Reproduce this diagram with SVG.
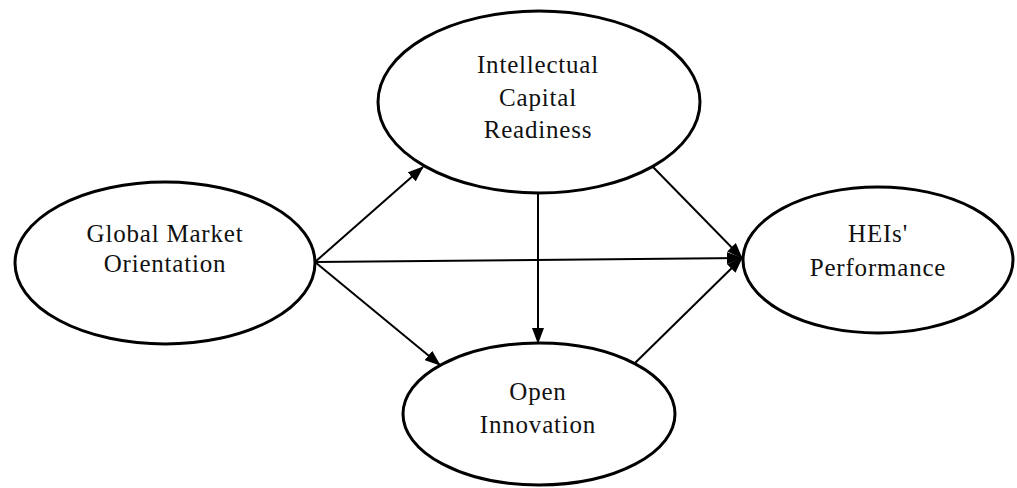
<svg xmlns="http://www.w3.org/2000/svg" width="1017" height="488" viewBox="0 0 1017 488">
<style>
.node{fill:#fff;stroke:#000;stroke-width:3}
.lbl{font-family:"Liberation Serif","Times New Roman",serif;font-size:25px;letter-spacing:0.8px;fill:#111;text-anchor:middle}
.edge{stroke:#000;stroke-width:2;fill:none;marker-end:url(#arr)}
</style>
<defs>
<marker id="arr" markerUnits="userSpaceOnUse" markerWidth="16" markerHeight="12" refX="15" refY="6" orient="auto">
<path d="M0,0 L16,6 L0,12 Z" fill="#000"/>
</marker>
</defs>
<g id="connectors">
<line class="edge" x1="315" y1="262" x2="423" y2="167"/>
<line class="edge" x1="315" y1="262" x2="440" y2="365"/>
<line class="edge" x1="315" y1="262" x2="742" y2="258"/>
<line class="edge" x1="653" y1="167" x2="742" y2="258"/>
<line class="edge" x1="635" y1="363" x2="742" y2="258"/>
<line class="edge" x1="538" y1="193" x2="538" y2="343"/>
</g>
<g id="gmo">
<ellipse class="node" cx="165" cy="263" rx="150" ry="81"/>
<text class="lbl" x="165" y="242">Global Market</text>
<text class="lbl" x="165" y="272">Orientation</text>
</g>
<g id="icr">
<ellipse class="node" cx="539" cy="102" rx="161" ry="91"/>
<text class="lbl" x="538" y="73">Intellectual</text>
<text class="lbl" x="538" y="106">Capital</text>
<text class="lbl" x="538" y="138">Readiness</text>
</g>
<g id="hei">
<ellipse class="node" cx="878" cy="260" rx="135" ry="73"/>
<text class="lbl" x="878" y="242">HEIs'</text>
<text class="lbl" x="878" y="276">Performance</text>
</g>
<g id="oi">
<ellipse class="node" cx="539" cy="414" rx="136" ry="71"/>
<text class="lbl" x="538" y="400">Open</text>
<text class="lbl" x="538" y="433">Innovation</text>
</g>
</svg>
